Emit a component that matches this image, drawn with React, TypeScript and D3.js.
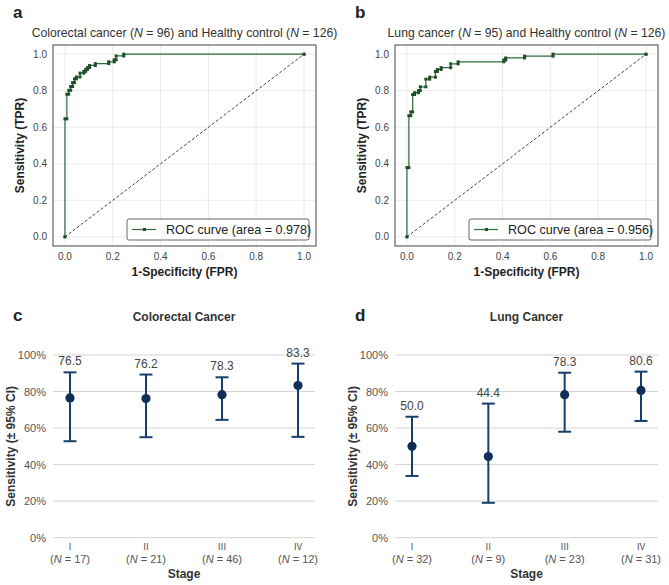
import React from "react";
import * as d3 from "d3";

// ---------- ROC data ----------
const fprA = [0, 0, 0.008, 0.008, 0.016, 0.016, 0.024, 0.024, 0.032, 0.032, 0.04, 0.04, 0.048, 0.048, 0.063, 0.063, 0.079, 0.079, 0.087, 0.087, 0.095, 0.095, 0.103, 0.103, 0.127, 0.127, 0.183, 0.183, 0.206, 0.206, 0.214, 0.214, 0.246, 0.246, 1];
const tprA = [0, 0.646, 0.646, 0.781, 0.781, 0.802, 0.802, 0.823, 0.823, 0.844, 0.844, 0.865, 0.865, 0.875, 0.875, 0.896, 0.896, 0.906, 0.906, 0.917, 0.917, 0.927, 0.927, 0.938, 0.938, 0.948, 0.948, 0.958, 0.958, 0.969, 0.969, 0.99, 0.99, 1, 1];
const fprB = [0, 0, 0.008, 0.008, 0.016, 0.016, 0.024, 0.024, 0.032, 0.032, 0.048, 0.048, 0.056, 0.056, 0.079, 0.079, 0.095, 0.095, 0.119, 0.119, 0.127, 0.127, 0.143, 0.143, 0.183, 0.183, 0.214, 0.214, 0.405, 0.405, 0.413, 0.413, 0.492, 0.492, 0.611, 0.611, 1];
const tprB = [0, 0.379, 0.379, 0.663, 0.663, 0.684, 0.684, 0.779, 0.779, 0.789, 0.789, 0.8, 0.8, 0.821, 0.821, 0.863, 0.863, 0.874, 0.874, 0.905, 0.905, 0.916, 0.916, 0.926, 0.926, 0.947, 0.947, 0.958, 0.958, 0.968, 0.968, 0.979, 0.979, 0.989, 0.989, 1, 1];
const rocTicks = [0, 0.2, 0.4, 0.6, 0.8, 1.0];
const aucA = "0.978";
const aucB = "0.956";

// ---------- Stage sensitivity data ----------
const stages = ["\u2160", "\u2161", "\u2162", "\u2163"];
const crcN = [17, 21, 46, 12];
const crcSens = [76.5, 76.2, 78.3, 83.3];
const crcLow = [52.8, 55.0, 64.5, 55.2];
const crcHigh = [90.5, 89.3, 87.8, 95.3];
const lungN = [32, 9, 23, 31];
const lungSens = [50.0, 44.4, 78.3, 80.6];
const lungLow = [33.8, 19.1, 58.0, 63.9];
const lungHigh = [66.2, 73.4, 90.3, 90.9];
const pctTicks = [0, 20, 40, 60, 80, 100];

const FONT = "'Liberation Sans', Arial, Helvetica, sans-serif";
const ROMAN_FONT = "'Noto Sans CJK SC', 'DejaVu Sans', sans-serif";
const GREEN = "#2f6b3c";
const GREEN_DARK = "#1d4f29";
const NAVY = "#163f6c";

function RocPanel({ left, fpr, tpr, letter, title, auc }: any) {
  const x = d3.scaleLinear().domain([-0.05, 1.05]).range([left, left + 263]);
  const y = d3.scaleLinear().domain([-0.05, 1.05]).range([246, 45]);
  const pts = fpr.map((f: number, i: number) => [f, tpr[i]]);
  const line = d3.line<any>().x((d) => x(d[0])).y((d) => y(d[1]));
  const cx = (left + left + 263) / 2;
  const legX = x(1.05) - 189;
  const legY = 219;
  return (
    <g>
      <text x={left - 40} y={18} fontSize={17} fontWeight="bold" fontFamily={FONT} fill="#222">{letter}</text>
      <text x={cx} y={37} fontSize={12.2} textAnchor="middle" fontFamily={FONT} fill="#333">{title}</text>
      <rect x={x(-0.05)} y={y(1.05)} width={263} height={201} fill="#fff" />
      {rocTicks.map((t) => (
        <g key={"g" + t}>
          <line x1={x(t)} x2={x(t)} y1={y(1.05)} y2={y(-0.05)} stroke="#e6e6e6" strokeWidth={0.8} />
          <line x1={x(-0.05)} x2={x(1.05)} y1={y(t)} y2={y(t)} stroke="#e6e6e6" strokeWidth={0.8} />
        </g>
      ))}
      <path d={line([[0, 0], [1, 1]]) || ""} stroke="#444" strokeWidth={1} strokeDasharray="3,2" fill="none" />
      <circle cx={x(0)} cy={y(0)} r={1.5} fill="#333" />
      <circle cx={x(1)} cy={y(1)} r={1.5} fill="#333" />
      <path d={line(pts) || ""} stroke={GREEN} strokeWidth={1.2} fill="none" />
      {pts.map((p: number[], i: number) => (
        <rect key={i} x={x(p[0]) - 1.5} y={y(p[1]) - 1.5} width={3} height={3} fill={GREEN_DARK} />
      ))}
      <rect x={x(-0.05)} y={y(1.05)} width={263} height={201} fill="none" stroke="#444" strokeWidth={1} />
      {rocTicks.map((t) => (
        <g key={"l" + t}>
          <text x={x(t)} y={y(-0.05) + 14} fontSize={10} textAnchor="middle" fontFamily={FONT} fill="#444">{t.toFixed(1)}</text>
          <text x={x(-0.05) - 6} y={y(t) + 3.5} fontSize={10} textAnchor="end" fontFamily={FONT} fill="#444">{t.toFixed(1)}</text>
        </g>
      ))}
      <text x={cx} y={276} fontSize={12} fontWeight="bold" textAnchor="middle" fontFamily={FONT} fill="#222">1-Specificity (FPR)</text>
      <text transform={`translate(${left - 29},${(y(1.05) + y(-0.05)) / 2}) rotate(-90)`} fontSize={12} fontWeight="bold" textAnchor="middle" fontFamily={FONT} fill="#222">Sensitivity (TPR)</text>
      <rect x={legX} y={legY} width={182} height={21} rx={2} fill="#fff" stroke="#555" strokeWidth={0.9} />
      <line x1={legX + 5} x2={legX + 29} y1={legY + 10.5} y2={legY + 10.5} stroke={GREEN} strokeWidth={1.2} />
      <rect x={legX + 16} y={legY + 9} width={3} height={3} fill={GREEN_DARK} />
      <text x={legX + 39} y={legY + 15} fontSize={12.6} fontFamily={FONT} fill="#222">{`ROC curve (area = ${auc})`}</text>
    </g>
  );
}

function StagePanel({ left, right, letter, title, sens, low, high, ns }: any) {
  const y = d3.scaleLinear().domain([0, 100]).range([537.7, 355]);
  const x = d3.scalePoint<string>().domain(stages).range([left + 17, right - 17]);
  const cx = (left + right) / 2;
  return (
    <g>
      <text x={left - 40} y={321} fontSize={17} fontWeight="bold" fontFamily={FONT} fill="#222">{letter}</text>
      <text x={cx} y={321} fontSize={12} fontWeight="bold" textAnchor="middle" fontFamily={FONT} fill="#333">{title}</text>
      {pctTicks.map((t) => (
        <g key={t}>
          <line x1={left} x2={right} y1={y(t)} y2={y(t)} stroke="#d4d4d4" strokeWidth={1} />
          <text x={left - 7} y={y(t) + 4} fontSize={11} textAnchor="end" fontFamily={FONT} fill="#555">{`${t}%`}</text>
        </g>
      ))}
      {stages.map((s, i) => {
        const px = x(s) as number;
        return (
          <g key={s}>
            <line x1={px} x2={px} y1={y(low[i])} y2={y(high[i])} stroke={NAVY} strokeWidth={2} />
            <line x1={px - 6.5} x2={px + 6.5} y1={y(low[i])} y2={y(low[i])} stroke={NAVY} strokeWidth={2} />
            <line x1={px - 6.5} x2={px + 6.5} y1={y(high[i])} y2={y(high[i])} stroke={NAVY} strokeWidth={2} />
            <circle cx={px} cy={y(sens[i])} r={4.6} fill="#0f2f58" />
            <text x={px} y={y(high[i]) - 7} fontSize={12} textAnchor="middle" fontFamily={FONT} fill="#444">{sens[i].toFixed(1)}</text>
            <text x={px} y={550} fontSize={9.5} textAnchor="middle" fontFamily={ROMAN_FONT} fill="#555">{s}</text>
            <text x={px} y={563} fontSize={11} textAnchor="middle" fontFamily={FONT} fill="#555">
              (<tspan fontStyle="italic">N</tspan>{` = ${ns[i]})`}
            </text>
          </g>
        );
      })}
      <text x={cx} y={578} fontSize={12} fontWeight="bold" textAnchor="middle" fontFamily={FONT} fill="#333">Stage</text>
      <text transform={`translate(${left - 38},${(y(0) + y(100)) / 2}) rotate(-90)`} fontSize={12} fontWeight="bold" textAnchor="middle" fontFamily={FONT} fill="#333">Sensitivity (± 95% CI)</text>
    </g>
  );
}

export default function App() {
  return (
    <svg width={669} height={585} style={{ position: "absolute", left: 0, top: 0, background: "#fff" }}>
      <rect width={669} height={585} fill="#fff" />
      <RocPanel left={53} fpr={fprA} tpr={tprA} letter="a" auc={aucA}
        title={<>Colorectal cancer (<tspan fontStyle="italic">N</tspan> = 96) and Healthy control (<tspan fontStyle="italic">N</tspan> = 126)</>} />
      <RocPanel left={395} fpr={fprB} tpr={tprB} letter="b" auc={aucB}
        title={<>Lung cancer (<tspan fontStyle="italic">N</tspan> = 95) and Healthy control (<tspan fontStyle="italic">N</tspan> = 126)</>} />
      <StagePanel left={53} right={315} letter="c" title="Colorectal Cancer" sens={crcSens} low={crcLow} high={crcHigh} ns={crcN} />
      <StagePanel left={395} right={658} letter="d" title="Lung Cancer" sens={lungSens} low={lungLow} high={lungHigh} ns={lungN} />
    </svg>
  );
}
